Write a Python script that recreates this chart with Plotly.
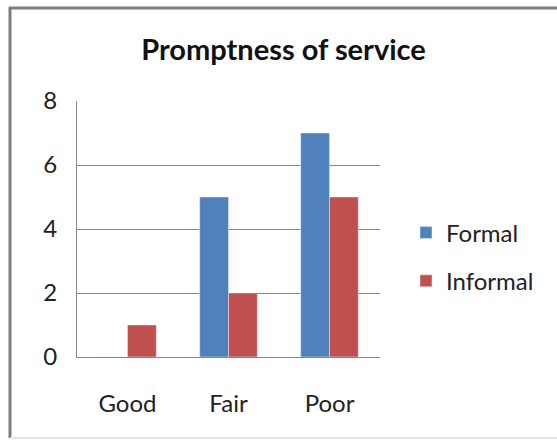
import plotly.graph_objects as go

categories = ["Good", "Fair", "Poor"]
formal = [0, 5, 7]
informal = [1, 2, 5]
y_ticks = [0, 2, 4, 6, 8]

W, H = 557, 441
L, R, T, B = 77, 380, 101, 357

def px(x):
    return (x - L) / (R - L)

def py(y):
    return (B - y) / (B - T)

FONT = "Lato"

fig = go.Figure()
fig.add_trace(go.Bar(name="Formal", x=categories, y=formal, marker_color="#4F81BD",
                     legendgroup="a"))
fig.add_trace(go.Bar(name="Informal", x=categories, y=informal, marker_color="#C0504D",
                     legendgroup="b"))

fig.update_layout(
    width=W, height=H,
    margin=dict(l=L, r=W - R, t=T, b=H - B, pad=0),
    paper_bgcolor="white", plot_bgcolor="white",
    barmode="group", bargap=0.43, bargroupgap=0,
    font=dict(family=FONT, size=24, color="#222"),
    title=dict(text="<b>Promptness of service</b>", x=0.509, xanchor="center",
               y=1 - 50 / H, yanchor="middle", yref="container",
               font=dict(family=FONT, size=29, color="#111")),
    showlegend=True,
    legend=dict(x=px(406), xanchor="left", y=py(257), yanchor="middle",
                itemwidth=30, tracegroupgap=14, bgcolor="rgba(0,0,0,0)",
                font=dict(family=FONT, size=24, color="#222")),
    xaxis=dict(showline=True, linecolor="#888", linewidth=1, ticks="",
               ticklabelstandoff=25, tickfont=dict(family=FONT, size=24)),
    yaxis=dict(range=[0, 8], tickvals=y_ticks, showgrid=True, gridcolor="#888",
               gridwidth=1, showline=True, linecolor="#888", linewidth=1,
               ticks="", ticklabelstandoff=14, zeroline=False,
               tickfont=dict(family=FONT, size=24)),
)

# chart frame
fig.add_shape(type="line", xref="paper", yref="paper", x0=px(10), x1=px(10),
              y0=py(7), y1=py(438), line=dict(color="#7f7f7f", width=3))
fig.add_shape(type="line", xref="paper", yref="paper", x0=px(9), x1=px(560),
              y0=py(8), y1=py(8), line=dict(color="#7f7f7f", width=3))
fig.add_shape(type="line", xref="paper", yref="paper", x0=px(10), x1=px(560),
              y0=py(438), y1=py(438), line=dict(color="#e6e6e6", width=2))

fig.write_html("out.html")
